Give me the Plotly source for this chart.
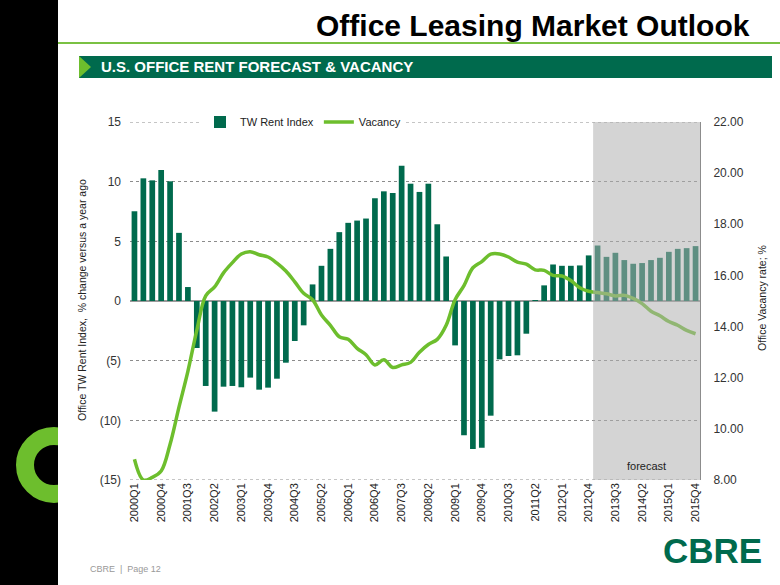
import plotly.graph_objects as go

quarters = [f"{y}Q{q}" for y in range(2000, 2016) for q in range(1, 5)]

rent_index = [7.52, 10.28, 10.11, 10.97, 10.03, 5.71, 1.17, -3.94, -7.12, -9.27,
              -7.18, -7.12, -7.23, -6.42, -7.43, -7.26, -6.51, -5.17, -3.35, -2.04,
              1.39, 2.95, 4.37, 5.77, 6.55, 6.74, 6.91, 8.61, 9.19, 9.05,
              11.34, 9.83, 9.14, 9.83, 6.43, 3.73, -3.72, -11.26, -12.40, -12.29,
              -9.61, -4.89, -4.61, -4.55, -2.74, 0.05, 1.31, 3.06, 2.95, 2.95,
              2.98, 3.82, 4.65, 3.70, 4.04, 3.43, 3.12, 3.18, 3.43, 3.62,
              4.12, 4.37, 4.43, 4.60]

vacancy = [8.81, 8.0, 8.1, 8.35, 9.4, 10.85, 12.25, 13.85, 15.2, 15.55,
           16.1, 16.5, 16.84, 16.93, 16.81, 16.72, 16.48, 16.17, 15.75, 15.3,
           15.05, 14.45, 14.05, 13.6, 13.5, 13.15, 12.9, 12.5, 12.7, 12.4,
           12.5, 12.6, 13.0, 13.3, 13.5, 14.05, 15.05, 15.6, 16.3, 16.54,
           16.83, 16.84, 16.72, 16.52, 16.44, 16.22, 16.2, 16.0, 15.98, 15.8,
           15.52, 15.38, 15.33, 15.28, 15.2, 15.22, 15.1, 14.9, 14.6, 14.42,
           14.2, 14.05, 13.85, 13.72]

left_tickvals = [15, 10, 5, 0, -5, -10, -15]
left_ticktext = ["15", "10", "5", "0", "(5)", "(10)", "(15)"]
right_tickvals = [8, 10, 12, 14, 16, 18, 20, 22]
forecast_start = "2013Q1"

FONT = "Liberation Sans, Arial, sans-serif"
DARK_GREEN = "#006A4D"
LIME = "#6DBE2D"

# plot area in pixels
L, R, T, B = 130, 700, 122, 480
W, H = 780, 585


def px(x):
    return (x - L) / (R - L)


def py(y):
    return (B - y) / (B - T)


fig = go.Figure()
fig.add_trace(go.Bar(x=quarters, y=rent_index, name="TW Rent Index",
                     marker=dict(color=DARK_GREEN, line=dict(width=0))))
fig.add_trace(go.Scatter(x=quarters, y=vacancy, name="Vacancy", yaxis="y2",
                         mode="lines", line=dict(color=LIME, width=3.5, shape="spline")))

fi = quarters.index(forecast_start)
n = len(quarters)
shapes = [
    # dotted lines at the axis extremes
    dict(type="line", xref="paper", yref="y", x0=0, x1=1, y0=max(left_tickvals), y1=max(left_tickvals),
         line=dict(color="#8c8c8c", width=1, dash="dot"), layer="below"),
    dict(type="line", xref="paper", yref="y", x0=0, x1=1, y0=min(left_tickvals), y1=min(left_tickvals),
         line=dict(color="#8c8c8c", width=1, dash="dot"), layer="below"),
    # forecast overlay
    dict(type="rect", xref="x", yref="paper", x0=fi - 0.5, x1=n - 0.5,
         y0=0, y1=1, fillcolor="rgba(176,176,176,0.54)", line=dict(width=0), layer="above"),
    # left black panel
    dict(type="rect", xref="paper", yref="paper", x0=px(0), x1=px(58), y0=py(0), y1=py(585),
         fillcolor="black", line=dict(width=0), layer="below"),
    # ring (thick outline)
    dict(type="circle", xref="paper", yref="paper", x0=px(25), x1=px(83), y0=py(436), y1=py(494),
         fillcolor="rgba(0,0,0,0)", line=dict(color=LIME, width=18), layer="below"),
    dict(type="rect", xref="paper", yref="paper", x0=px(58), x1=px(96), y0=py(420), y1=py(510),
         fillcolor="white", line=dict(width=0), layer="below"),
    # title underline
    dict(type="line", xref="paper", yref="paper", x0=px(58), x1=px(780), y0=py(43), y1=py(43),
         line=dict(color="#7AC143", width=2), layer="below"),
    # banner
    dict(type="rect", xref="paper", yref="paper", x0=px(79), x1=px(772), y0=py(56), y1=py(78),
         fillcolor=DARK_GREEN, line=dict(width=0), layer="below"),
    dict(type="path", xref="paper", yref="paper",
         path=f"M {px(79)} {py(56)} L {px(91)} {py(67)} L {px(79)} {py(78)} Z",
         fillcolor=LIME, line=dict(width=0), layer="below"),
]

annotations = [
    dict(text="<b>Office Leasing Market Outlook</b>", x=px(752), y=py(25), xref="paper", yref="paper",
         xanchor="right", yanchor="middle", showarrow=False,
         font=dict(family=FONT, size=30, color="black")),
    dict(text="<b>U.S. OFFICE RENT FORECAST &amp; VACANCY</b>", x=px(99), y=py(67),
         xref="paper", yref="paper", xanchor="left", yanchor="middle", showarrow=False,
         font=dict(family=FONT, size=15, color="white")),
    dict(text="Office TW Rent Index,  % change versus a year ago", x=px(82), y=py(300),
         xref="paper", yref="paper", textangle=-90, showarrow=False,
         xanchor="center", yanchor="middle", font=dict(family=FONT, size=10.5, color="#222")),
    dict(text="Office Vacancy rate; %", x=px(762), y=py(298),
         xref="paper", yref="paper", textangle=-90, showarrow=False,
         xanchor="center", yanchor="middle", font=dict(family=FONT, size=10.5, color="#222")),
    dict(text="forecast", x=px(646), y=py(466), xref="paper", yref="paper", showarrow=False,
         xanchor="center", yanchor="middle", font=dict(family=FONT, size=11, color="#222")),
    dict(text="<b>CBRE</b>", x=px(712), y=py(550), xref="paper", yref="paper", showarrow=False,
         xanchor="center", yanchor="middle", font=dict(family=FONT, size=35, color=DARK_GREEN)),
    dict(text="CBRE  |  Page 12", x=px(88), y=py(569), xref="paper", yref="paper", showarrow=False,
         xanchor="left", yanchor="middle", font=dict(family=FONT, size=9, color="#999")),
]

fig.update_layout(
    width=W, height=H,
    margin=dict(l=L, r=W - R, t=T, b=H - B),
    paper_bgcolor="white", plot_bgcolor="white",
    bargap=0.36,
    showlegend=True,
    legend=dict(orientation="h", x=px(200), y=1.0, xanchor="left", yanchor="middle",
                bgcolor="white", font=dict(family=FONT, size=11, color="#222"),
                itemwidth=30, tracegroupgap=0),
    xaxis=dict(type="category", tickmode="array", tickvals=quarters[::3], ticktext=quarters[::3],
               tickangle=-90, tickfont=dict(family=FONT, size=11, color="#222"),
               showgrid=False, showline=False, ticks="", range=[-0.5, n - 0.5]),
    yaxis=dict(range=[-15, 15], tickmode="array", tickvals=left_tickvals, ticktext=left_ticktext,
               tickfont=dict(family=FONT, size=12, color="#333"),
               showgrid=True, gridcolor="#8c8c8c", griddash="dot", gridwidth=1,
               zeroline=True, zerolinecolor="#9a9a9a", zerolinewidth=1.5,
               showline=False, ticks="", ticklabelstandoff=8),
    yaxis2=dict(range=[8, 22], overlaying="y", side="right", tickmode="array",
                tickvals=right_tickvals, tickformat=".2f",
                tickfont=dict(family=FONT, size=12, color="#333"),
                showgrid=False, zeroline=False, showline=True, linecolor="#8c8c8c", linewidth=1,
                ticks="", ticklabelstandoff=10),
    shapes=shapes,
    annotations=annotations,
    font=dict(family=FONT),
)

fig.write_html("out.html", config={"displayModeBar": False},
               post_script="document.body.style.margin='0';document.body.style.overflow='hidden';")
